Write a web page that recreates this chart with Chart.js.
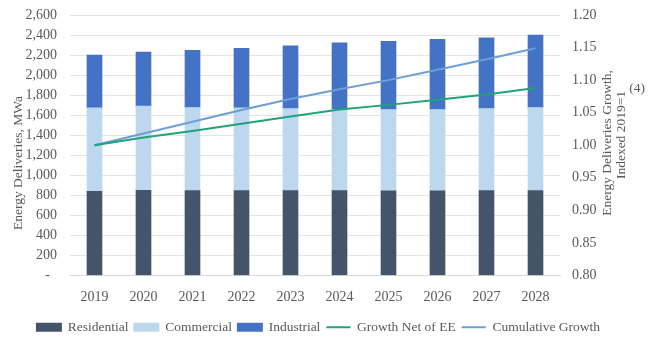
<!DOCTYPE html>
<html>
<head>
<meta charset="utf-8">
<script src="https://cdn.jsdelivr.net/npm/chart.js@4"></script>
<style>
  html, body { margin: 0; padding: 0; background: #fff; }
  #wrap { width: 655px; height: 341px; }
</style>
</head>
<body>
<div id="wrap"><canvas id="deliveries" width="655" height="341"></canvas></div>
<script>
// données
const years = ['2019', '2020', '2021', '2022', '2023', '2024', '2025', '2026', '2027', '2028'];
const residential = [840, 850, 848, 848, 847, 847, 846, 846, 847, 848];
const commercial = [833, 840, 829, 825, 820, 810, 811, 811, 820, 829];
const industrial = [527, 540, 570, 594, 626, 666, 680, 700, 706, 723];
const growthNetEE = [1.000, 1.012, 1.022, 1.033, 1.044, 1.055, 1.062, 1.070, 1.078, 1.088];
const cumulativeGrowth = [1.000, 1.018, 1.036, 1.054, 1.071, 1.086, 1.100, 1.116, 1.132, 1.149];

const textColor = '#595959';
const gridColor = '#E4E4E4';
const fontFamily = '"Liberation Serif", "DejaVu Serif", serif';

// titres d'axes écrits de bas en haut, comme dans l'original
const axisTitles = {
    id: 'axisTitles',
    afterDraw(chart) {
        const ctx = chart.ctx;
        ctx.save();
        ctx.fillStyle = textColor;
        ctx.font = '13.5px ' + fontFamily;
        ctx.textAlign = 'center';
        ctx.textBaseline = 'middle';

        ctx.save();
        ctx.translate(18, 163);
        ctx.rotate(-Math.PI / 2);
        ctx.fillText('Energy Deliveries, MWa', 0, 0);
        ctx.restore();

        ctx.save();
        ctx.translate(607, 143);
        ctx.rotate(-Math.PI / 2);
        ctx.fillText('Energy Deliveries Growth,', 0, 0);
        ctx.restore();

        ctx.save();
        ctx.translate(621, 135);
        ctx.rotate(-Math.PI / 2);
        ctx.fillText('Indexed 2019=1', 0, 0);
        ctx.restore();

        ctx.fillText('(4)', 637, 88);
        ctx.restore();
    }
};

function formatMWa(value) {
    if (value === 0) return '-  ';
    return value.toLocaleString('en-US');
}

// pas de marge automatique pour les étiquettes des axes verticaux
function noLabelPadding(scale) {
    scale.paddingTop = 0;
    scale.paddingBottom = 0;
}

new Chart(document.getElementById('deliveries').getContext('2d'), {
    type: 'bar',
    data: {
        labels: years,
        datasets: [
            { label: 'Residential', data: residential, backgroundColor: '#44546A', yAxisID: 'y', order: 1, barThickness: 15 },
            { label: 'Commercial', data: commercial, backgroundColor: '#BDD7EE', yAxisID: 'y', order: 1, barThickness: 15 },
            { label: 'Industrial', data: industrial, backgroundColor: '#4472C4', yAxisID: 'y', order: 1, barThickness: 15 },
            {
                type: 'line', label: 'Growth Net of EE', data: growthNetEE, yAxisID: 'y1',
                borderColor: '#1FA37A', backgroundColor: '#1FA37A', borderWidth: 2,
                pointRadius: 0, tension: 0, order: 0
            },
            {
                type: 'line', label: 'Cumulative Growth', data: cumulativeGrowth, yAxisID: 'y1',
                borderColor: '#6C9FD6', backgroundColor: '#6C9FD6', borderWidth: 2,
                pointRadius: 0, tension: 0, order: 0
            }
        ]
    },
    options: {
        responsive: false,
        animation: false,
        layout: { padding: { top: 15, bottom: -3, right: 18 } },
        scales: {
            x: {
                stacked: true,
                grid: { display: false, drawTicks: false },
                border: { color: '#D9D9D9' },
                ticks: { color: textColor, font: { family: fontFamily, size: 14 }, padding: 13 },
                afterFit(scale) { scale.height = 39; }
            },
            y: {
                stacked: true,
                position: 'left',
                min: 0, max: 2600,
                grid: { color: gridColor, drawTicks: false },
                border: { display: false },
                ticks: {
                    stepSize: 200, autoSkip: false, color: textColor, padding: 13,
                    font: { family: fontFamily, size: 14 },
                    callback: formatMWa
                },
                afterFit(scale) { scale.width = 70; noLabelPadding(scale); }
            },
            y1: {
                position: 'right',
                min: 0.8, max: 1.2,
                grid: { display: false, drawTicks: false },
                border: { display: false },
                ticks: {
                    stepSize: 0.05, autoSkip: false, color: textColor, padding: 12,
                    font: { family: fontFamily, size: 14 },
                    callback: v => v.toFixed(2)
                },
                afterFit(scale) { scale.width = 77; noLabelPadding(scale); }
            }
        },
        plugins: {
            tooltip: { enabled: false },
            legend: {
                position: 'bottom',
                labels: {
                    color: textColor,
                    font: { family: fontFamily, size: 13.5 },
                    usePointStyle: true,
                    pointStyleWidth: 24,
                    boxHeight: 7,
                    padding: 6,
                    generateLabels(chart) {
                        return chart.data.datasets.map((ds, i) => ({
                            text: ds.label,
                            fillStyle: ds.backgroundColor,
                            strokeStyle: ds.type === 'line' ? ds.borderColor : ds.backgroundColor,
                            lineWidth: 2,
                            pointStyle: ds.type === 'line' ? 'line' : 'rect',
                            fontColor: textColor,
                            datasetIndex: i,
                            hidden: false
                        }));
                    }
                }
            }
        }
    },
    plugins: [axisTitles]
});
</script>
</body>
</html>
